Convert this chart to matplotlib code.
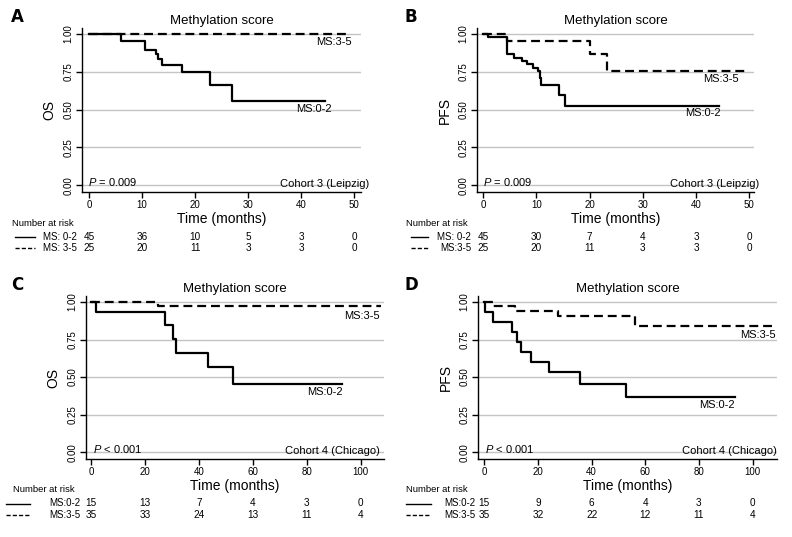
import matplotlib
matplotlib.use("Agg")
from matplotlib import pyplot as plt
from matplotlib.lines import Line2D
from matplotlib.transforms import blended_transform_factory

plt.rcParams['font.family'] = ['Liberation Sans', 'DejaVu Sans']
plt.rcParams['mathtext.fontset'] = 'custom'
plt.rcParams['mathtext.it'] = 'Liberation Sans:italic'
plt.rcParams['mathtext.rm'] = 'Liberation Sans'

# panel A: OS, cohort 3
a_t1 = [0, 6.0, 10.6, 12.6, 13.1, 13.8, 17.5, 22.8, 26.9, 44.5]
a_s1 = [1.0, 0.951, 0.896, 0.868, 0.834, 0.797, 0.75, 0.664, 0.556, 0.556]
a_t2 = [0, 48.9]
a_s2 = [1.0, 1.0]
a_risk1 = [45, 36, 10, 5, 3, 0]
a_risk2 = [25, 20, 11, 3, 3, 0]

# panel B: PFS, cohort 3
b_t1 = [0, 0.9, 4.5, 5.8, 7.3, 8.3, 9.3, 10.2, 10.6, 10.9, 14.3, 15.4, 44.3]
b_s1 = [1.0, 0.978, 0.866, 0.844, 0.822, 0.80, 0.778, 0.756, 0.711, 0.664, 0.598, 0.525, 0.525]
b_t2 = [0, 4.5, 20.0, 23.2, 49.2]
b_s2 = [1.0, 0.954, 0.868, 0.758, 0.758]
b_risk1 = [45, 30, 7, 4, 3, 0]
b_risk2 = [25, 20, 11, 3, 3, 0]

# panel C: OS, cohort 4
c_t1 = [0, 1.9, 27.4, 30.5, 31.4, 43.5, 52.8, 92.9]
c_s1 = [1.0, 0.933, 0.848, 0.755, 0.662, 0.565, 0.454, 0.454]
c_t2 = [0, 25.0, 107.5]
c_s2 = [1.0, 0.971, 0.971]
c_risk1 = [15, 13, 7, 4, 3, 0]
c_risk2 = [35, 33, 24, 13, 11, 4]

# panel D: PFS, cohort 4
d_t1 = [0, 0.3, 3.4, 10.4, 12.1, 13.6, 17.4, 24.1, 35.7, 52.8, 93.5]
d_s1 = [1.0, 0.933, 0.867, 0.80, 0.733, 0.667, 0.60, 0.533, 0.457, 0.367, 0.367]
d_t2 = [0, 3.4, 11.4, 27.6, 56.3, 107.2]
d_s2 = [1.0, 0.971, 0.942, 0.909, 0.841, 0.841]
d_risk1 = [15, 9, 6, 4, 3, 0]
d_risk2 = [35, 32, 22, 12, 11, 4]

ticks_50 = [0, 10, 20, 30, 40, 50]
ticks_100 = [0, 20, 40, 60, 80, 100]
yticks = [0.0, 0.25, 0.5, 0.75, 1.0]

W, H = 792, 537
fig = plt.figure(figsize=(W / 100, H / 100), dpi=100)


def rect(l, t, r, b):
    return [l / W, 1 - b / H, (r - l) / W, (b - t) / H]


def panel(box, letter, letter_x, ylab, t1, s1, t2, s2, xlim, xticks, lab1_pos, lab2_pos,
          ptext, cohort, cohort_pos, risk1, risk2, rlabels, line_x, lab_right, nar_x):
    ax = fig.add_axes(rect(*box))
    ax.step(t1, s1, where='post', color='black', lw=1.6)
    ax.step(t2, s2, where='post', color='black', lw=1.6, dashes=(4, 2.2))
    ax.set_xlim(*xlim)
    ax.set_ylim(-0.045, 1.04)
    ax.set_xticks(xticks)
    ax.set_yticks(yticks)
    ax.set_yticklabels(['%.2f' % v for v in yticks], rotation=90, va='center')
    for v in yticks:
        ax.axhline(v, color='#c4c4c4', lw=1.0, zorder=0)
    for s in ['top', 'right']:
        ax.spines[s].set_visible(False)
    for s in ['left', 'bottom']:
        ax.spines[s].set_linewidth(1.0)
    ax.tick_params(length=4, width=1.0, labelsize=7, pad=2)
    ax.set_xlabel('Time (months)', fontsize=10, labelpad=1)
    ax.set_ylabel(ylab, fontsize=10, labelpad=5)
    ax.set_title('Methylation score', fontsize=9.5, pad=3)
    ax.text(lab2_pos[0], lab2_pos[1], 'MS:3-5', ha='right', va='center', fontsize=8)
    ax.text(lab1_pos[0], lab1_pos[1], 'MS:0-2', ha='right', va='center', fontsize=8)
    ax.text(xlim[0] + 1.2 * (xlim[1] - xlim[0]) / 52, 0.022, ptext, ha='left',
            va='center', fontsize=8)
    ax.text(cohort_pos, 0.005, cohort, ha='right', va='center', fontsize=8, clip_on=False)

    l, t, r, b = box
    fig.text(letter_x / W, 1 - (t - 11) / H, letter, family='DejaVu Sans',
             fontsize=12, fontweight='bold', va='center', ha='left')

    # number-at-risk table under the axis
    tr = blended_transform_factory(ax.transData, fig.transFigure)
    y0 = 1 - (b + 31) / H
    y1 = 1 - (b + 44.5) / H
    y2 = 1 - (b + 55.7) / H
    fig.text(nar_x / W, y0, 'Number at risk', fontsize=6.8, va='center', ha='left')
    for x, n1, n2 in zip(xticks, risk1, risk2):
        ax.text(x, y1, str(n1), transform=tr, ha='center', va='center', fontsize=7.2,
                clip_on=False)
        ax.text(x, y2, str(n2), transform=tr, ha='center', va='center', fontsize=7.2,
                clip_on=False)
    fig.add_artist(Line2D([line_x[0] / W, line_x[1] / W], [y1, y1], color='black', lw=1.0))
    fig.add_artist(Line2D([line_x[0] / W, line_x[1] / W], [y2, y2], color='black', lw=1.0,
                          dashes=(3, 1.5)))
    fig.text(lab_right / W, y1, rlabels[0], fontsize=7, va='center', ha='right')
    fig.text(lab_right / W, y2, rlabels[1], fontsize=7, va='center', ha='right')
    return ax


panel((82, 28, 361, 192), 'A', 11, 'OS', a_t1, a_s1, a_t2, a_s2, (-1.32, 51.3), ticks_50,
      (45.8, 0.503), (49.6, 0.949), '$P$ = 0.009', 'Cohort 3 (Leipzig)', 52.8,
      a_risk1, a_risk2, ('MS: 0-2', 'MS: 3-5'), (15, 35), 77, 12)
panel((477, 28, 754, 192), 'B', 405, 'PFS', b_t1, b_s1, b_t2, b_s2, (-1.18, 50.9), ticks_50,
      (44.7, 0.475), (48.0, 0.70), '$P$ = 0.009', 'Cohort 3 (Leipzig)', 51.9,
      b_risk1, b_risk2, ('MS: 0-2', 'MS:3-5'), (411, 428), 471, 406)
panel((86, 296, 384, 459), 'C', 11, 'OS', c_t1, c_s1, c_t2, c_s2, (-1.85, 108.6), ticks_100,
      (93.3, 0.40), (107.2, 0.905), '$P$ < 0.001', 'Cohort 4 (Chicago)', 107.2,
      c_risk1, c_risk2, ('MS:0-2', 'MS:3-5'), (6, 30), 80.7, 12.7)
panel((478, 296, 777, 459), 'D', 405, 'PFS', d_t1, d_s1, d_t2, d_s2, (-2.35, 109.1), ticks_100,
      (93.5, 0.312), (108.6, 0.78), '$P$ < 0.001', 'Cohort 4 (Chicago)', 109.1,
      d_risk1, d_risk2, ('MS:0-2', 'MS:3-5'), (406, 431), 475.3, 406)

fig.savefig('out.png', dpi=100)
